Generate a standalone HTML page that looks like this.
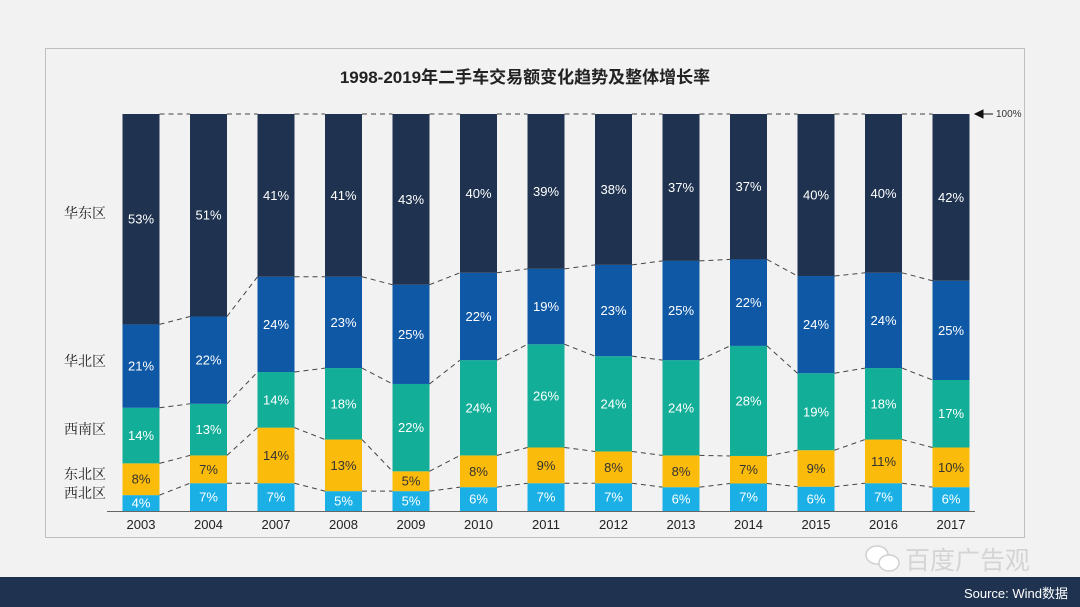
<!DOCTYPE html>
<html><head><meta charset="utf-8"><style>
body{margin:0;width:1080px;height:607px;background:#f2f2f2;overflow:hidden;font-family:"Liberation Sans","Noto Sans CJK SC",sans-serif;position:relative}
#frame{position:absolute;left:45px;top:48px;width:980px;height:490px;border:1px solid #bfbfbf;box-sizing:border-box}
#footer{position:absolute;left:0;top:577px;width:1080px;height:30px;background:#1f3350}
</style></head><body>
<div id="frame"></div>
<svg id="chart" width="1080" height="607" style="position:absolute;left:0;top:0">
<text x="525" y="83" text-anchor="middle" font-size="17" font-weight="bold" fill="#222" font-family="Liberation Sans,Noto Sans CJK SC,sans-serif">1998-2019年二手车交易额变化趋势及整体增长率</text>
<g fill="#fff" stroke="#d0d0d0" stroke-width="1.5">
<ellipse cx="877" cy="555" rx="11" ry="9"/><ellipse cx="889" cy="563" rx="10" ry="8"/>
</g>
</svg>
<div style="position:absolute;left:905px;top:541px;font-size:25px;color:#d4d4d4;font-family:'Noto Sans CJK SC',sans-serif">百度广告观</div>
<div id="footer"><span style="position:absolute;right:12px;top:6px;color:#fff;font-size:13px">Source: Wind数据</span></div>
<script>
const years=['2003','2004','2007','2008','2009','2010','2011','2012','2013','2014','2015','2016','2017'];
const xibei=[4,7,7,5,5,6,7,7,6,7,6,7,6];
const dongbei=[8,7,14,13,5,8,9,8,8,7,9,11,10];
const xinan=[14,13,14,18,22,24,26,24,24,28,19,18,17];
const huabei=[21,22,24,23,25,22,19,23,25,22,24,24,25];
const huadong=[53,51,41,41,43,40,39,38,37,37,40,40,42];
const seriesNames=['西北区','东北区','西南区','华北区','华东区'];
const series=[xibei,dongbei,xinan,huabei,huadong];
const colors=['#1ab0e6','#fbbb0a','#12ae98','#0e58a6','#1f3350'];
const textColors=['#fff','#333','#fff','#fff','#fff'];
const svg=document.getElementById('chart');const NS='http://www.w3.org/2000/svg';
const y0=511,y1=114,x0=141,step=67.5,bw=37;
const yS=v=>y0-(y0-y1)*v/100;
const xS=i=>x0+i*step;
function mk(t,a){const e=document.createElementNS(NS,t);for(const k in a)e.setAttribute(k,a[k]);svg.appendChild(e);return e;}
const bounds=[];
years.forEach((yr,i)=>{
  const tot=series.reduce((s,a)=>s+a[i],0);let cum=0;const b=[];
  series.forEach((arr,j)=>{
    const v=arr[i]/tot*100;const top=yS(cum+v),bot=yS(cum);
    const r=mk('rect',{x:xS(i)-bw/2,y:top,width:bw,height:bot-top,fill:colors[j]});
    
    
    const t=mk('text',{x:xS(i),y:(top+bot)/2+4.5,'text-anchor':'middle','font-size':13,fill:textColors[j]});
    t.textContent=arr[i]+'%';
    
    
    cum+=v;b.push(top);
  });
  bounds.push(b);
  const yl=mk('text',{x:xS(i),y:529,'text-anchor':'middle','font-size':13,fill:'#222'});
  yl.textContent=yr;
  
  
});
for(let i=0;i<years.length-1;i++){for(let j=0;j<5;j++){
  const l=mk('line',{x1:xS(i)+bw/2,y1:bounds[i][j],x2:xS(i+1)-bw/2,y2:bounds[i+1][j],stroke:'#444','stroke-dasharray':'5,4','stroke-width':1});
  
  
}}
const ax=mk('line',{x1:107,y1:y0+0.5,x2:975,y2:y0+0.5,stroke:'#666','stroke-width':1});


const lblY=[498,479,434,366,218];
seriesNames.forEach((n,j)=>{
  const t=mk('text',{x:64,y:lblY[j],'font-size':14,fill:'#222','font-family':'Noto Serif CJK SC,serif'});
  t.textContent=n;
  
  
});
const ar=mk('path',{d:'M975 114 L983 110 L983 118 Z M983 114 L993 114',stroke:'#111',fill:'#111','stroke-width':1});


const ht=mk('text',{x:996,y:117,'font-size':10,fill:'#333'});
ht.textContent='100%';


</script>
</body></html>
